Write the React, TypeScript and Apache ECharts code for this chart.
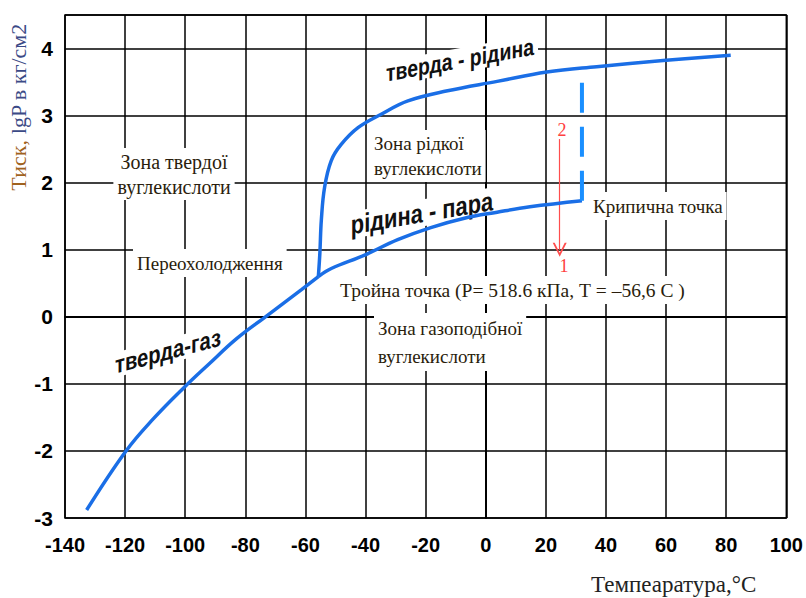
import React, { useEffect, useRef } from 'react';
import * as echarts from 'echarts';

// Phase diagram of CO2
const xMin = -140;
const xMax = 100;
const xStep = 20;
const yMin = -3;
const yMax = 4.5;
const yStep = 1;

// solid - gas (sublimation) curve
const solidGas: [number, number][] = [
  [-132.8, -2.88], [-119.7, -2.0], [-110.8, -1.53], [-100.3, -1.05], [-92, -0.7],
  [-83, -0.33], [-73.3, 0], [-61.2, 0.41], [-55.7, 0.6],
];
// liquid - vapour curve
const liquidVapor: [number, number][] = [
  [-55.7, 0.6], [-51.4, 0.72], [-40.3, 0.92], [-29.3, 1.15], [-18.3, 1.33],
  [-7.1, 1.47], [3.8, 1.56], [14.7, 1.64], [32, 1.73],
];
// solid - liquid (melting) curve
const solidLiquid: [number, number][] = [
  [-55.7, 0.6], [-55.2, 0.95], [-54.7, 1.45], [-53.6, 1.94], [-51.4, 2.33], [-48.1, 2.57],
  [-42.5, 2.82], [-34.8, 3.02], [-25.9, 3.22], [-12.7, 3.37], [3.8, 3.51], [20.3, 3.65],
  [36.9, 3.73], [59, 3.82], [81.5, 3.9],
];
// dashed vertical line from the critical point
const criticalLine: [number, number][] = [[32, 1.73], [32, 3.58]];
// red arrow 2 -> 1
const arrowStart: [number, number] = [24.6, 2.65];
const arrowEnd: [number, number] = [24.6, 1.0];

const SERIF = 'Liberation Serif';
const SANS = 'Liberation Sans';
const BLUE = '#1a6ee6';
const TXT = '#2a1d0c';

function measure(text: string, font: string): number {
  const c = document.createElement('canvas');
  const ctx = c.getContext('2d');
  if (!ctx) return text.length * 9;
  ctx.font = font;
  return ctx.measureText(text).width;
}

export default function App() {
  const ref = useRef<HTMLDivElement>(null);
  useEffect(() => {
    if (!ref.current) return;
    const chart = echarts.init(ref.current, undefined, { renderer: 'svg' });
    const lineSeries = (name: string, data: [number, number][]) => ({
      name, type: 'line', data, smooth: 0.4, showSymbol: false, symbol: 'none',
      lineStyle: { color: BLUE, width: 3.5 }, z: 5,
    });
    const boldText = (text: string, x: number, y: number, size: number, skew: number) => ({
      type: 'text', x, y, skewY: skew, scaleX: 0.81, z: 3,
      style: {
        text, fill: '#111', fontSize: size, fontWeight: 'bold', fontFamily: SANS,
        align: 'center', verticalAlign: 'middle', backgroundColor: '#fff', padding: [0, 5],
      },
    });
    const serifText = (lines: string[], x: number, y: number, align: string, size = 19, lineHeight = 26): any[] => {
      const font = `${size}px "${SERIF}"`;
      const w = Math.max(...lines.map((l) => measure(l, font))) + 8;
      const h = lines.length * lineHeight + 2;
      const left = align === 'center' ? x - w / 2 : x - 4;
      const top = y - h / 2;
      const out: any[] = [
        { type: 'rect', shape: { x: left, y: top, width: w, height: h }, style: { fill: '#fff' }, z: 3 },
      ];
      lines.forEach((l, i) => {
        out.push({
          type: 'text',
          x,
          y: top + 1 + lineHeight * (i + 0.5),
          z: 4,
          style: {
            text: `{s|${l}}`,
            align,
            verticalAlign: 'middle',
            fontSize: size,
            fontFamily: SERIF,
            rich: {
              s: { fontSize: size, fontFamily: SERIF, fill: TXT, color: TXT },
            },
          },
        });
      });
      return out;
    };
    chart.setOption({
      animation: false,
      grid: { left: 65, right: 15, top: 15, bottom: 80, show: true, borderColor: '#000', borderWidth: 1.5, backgroundColor: '#fff' },
      xAxis: {
        type: 'value', min: xMin, max: xMax, interval: xStep,
        axisLine: { show: true, lineStyle: { color: '#000', width: 2 } },
        axisTick: { show: false },
        splitLine: { show: true, lineStyle: { color: '#000', width: 1.5 } },
        axisLabel: { color: '#000', fontSize: 20, fontWeight: 'bold', fontFamily: SANS, margin: 17 },
      },
      yAxis: {
        type: 'value', min: yMin, max: yMax, interval: yStep,
        axisLine: { show: true, lineStyle: { color: '#000', width: 2 } },
        axisTick: { show: false },
        splitLine: { show: true, lineStyle: { color: '#000', width: 1.5 } },
        axisLabel: {
          color: '#000', fontSize: 21, fontWeight: 'bold', fontFamily: SANS, margin: 12,
          formatter: (v: number) => (Number.isInteger(v) ? String(v) : ''),
        },
      },
      series: [
        lineSeries('тверда-газ', solidGas),
        lineSeries('рідина - пара', liquidVapor),
        lineSeries('тверда - рідина', solidLiquid),
        {
          name: 'critical', type: 'line', data: criticalLine, showSymbol: false, symbol: 'none',
          lineStyle: { color: '#1a8fff', width: 4, type: [30, 14] }, z: 5,
          markLine: {
            silent: true,
            symbol: ['none', 'path://M0,14 L7,0 L14,14 L12,14 L7,4 L2,14 Z'],
            symbolSize: [14, 14],
            lineStyle: { color: '#ff4d4d', width: 1.2, type: 'solid' },
            itemStyle: { color: '#ff4d4d' },
            label: { show: false },
            data: [[{ coord: arrowStart }, { coord: arrowEnd }]],
          },
        },
      ],
      graphic: [
        boldText('тверда - рідина', 460, 60, 24, 0.18),
        boldText('рідина - пара', 422, 213, 27, 0.17),
        boldText('тверда-газ', 168, 351, 25, 0.26),
        ...serifText(['Зона твердої', 'вуглекислоти'], 174, 174, 'center', 20, 25),
        ...serifText(['Зона рідкої', 'вуглекислоти'], 374, 156, 'left', 19, 25),
        ...serifText(['Переохолодження'], 137, 263, 'left', 19),
        ...serifText(['Тройна точка (Р= 518.6 кПа, Т = –56,6 С )'], 340, 290, 'left', 19.5),
        ...serifText(['Зона газоподібної', 'вуглекислоти'], 378, 342, 'left', 19, 28),
        ...serifText(['Крипична точка'], 593, 206, 'left', 19),
        {
          type: 'text', x: 562, y: 130, z: 6,
          style: { text: '2', fill: '#ff4040', fontSize: 18, fontFamily: SERIF, align: 'center', verticalAlign: 'middle' },
        },
        {
          type: 'text', x: 564, y: 266, z: 6,
          style: { text: '1', fill: '#ff4040', fontSize: 18, fontFamily: SERIF, align: 'center', verticalAlign: 'middle' },
        },
        {
          type: 'text', x: 18, y: 107, rotation: Math.PI / 2, z: 4,
          style: {
            text: '{a|Тиск,} {b|lgP в кг/см2}',
            align: 'center', verticalAlign: 'middle',
            rich: {
              a: { fontSize: 22, fontFamily: SERIF, fill: '#a0621e', color: '#a0621e' },
              b: { fontSize: 22, fontFamily: SERIF, fill: '#3b4a86', color: '#3b4a86' },
            },
            fontSize: 22, fontFamily: SERIF,
          },
        },
        {
          type: 'text', x: 591, y: 584, z: 4,
          style: { text: 'Темпеаратура,°С', fill: '#222', fontSize: 23, fontFamily: SERIF, align: 'left', verticalAlign: 'middle' },
        },
      ],
    });
    return () => chart.dispose();
  }, []);
  return <div ref={ref} style={{ width: 806, height: 598, position: 'absolute', left: 0, top: 0 }} />;
}
